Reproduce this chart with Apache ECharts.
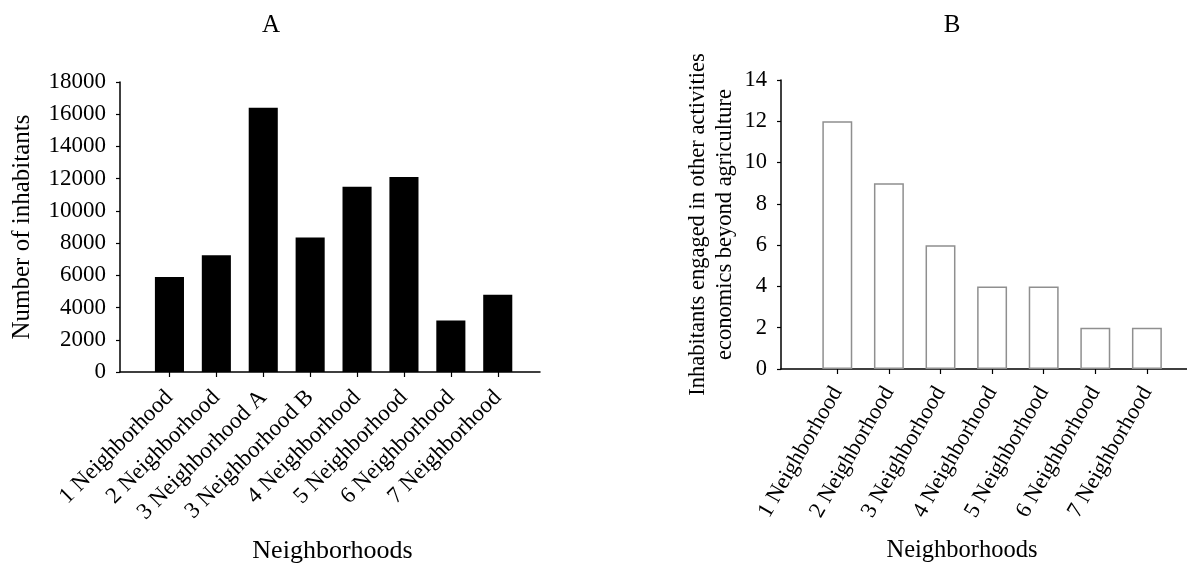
<!DOCTYPE html>
<html>
<head>
<meta charset="utf-8">
<script src="https://cdn.jsdelivr.net/npm/echarts@6/dist/echarts.min.js"></script>
<style>
  html, body { margin: 0; padding: 0; background: #ffffff; }
  #chart { width: 1187px; height: 564px; }
</style>
</head>
<body>
<div id="chart"></div>
<script>
// Panel A: population per neighborhood
const categoriesA = ['1 Neighborhood', '2 Neighborhood', '3 Neighborhood A', '3 Neighborhood B',
                     '4 Neighborhood', '5 Neighborhood', '6 Neighborhood', '7 Neighborhood'];
const inhabitants = [5900, 7250, 16400, 8350, 11500, 12100, 3200, 4800];
const axisA = { min: 0, max: 18000, interval: 2000 };

// Panel B: inhabitants working outside agriculture
const categoriesB = ['1 Neighborhood', '2 Neighborhood', '3 Neighborhood', '4 Neighborhood',
                     '5 Neighborhood', '6 Neighborhood', '7 Neighborhood'];
const nonFarmWorkers = [12, 9, 6, 4, 4, 2, 2];
const axisB = { min: 0, max: 14, interval: 2 };

const FONT = "'Liberation Serif', 'Times New Roman', serif";
const BLACK = '#000000';

function frameX(gridIndex) {
  // plain axis line spanning the full frame width
  return {
    type: 'value', gridIndex, min: 0, max: 1,
    axisLine: { show: true, lineStyle: { color: BLACK, width: 1.5 } },
    axisTick: { show: false }, axisLabel: { show: false }, splitLine: { show: false }
  };
}
function categoryX(gridIndex, data, rotate, fontSize, margin) {
  return {
    type: 'category', gridIndex, data,
    axisLine: { show: false },
    axisTick: { show: true, alignWithLabel: true, length: 5, lineStyle: { color: BLACK, width: 1.2 } },
    axisLabel: {
      interval: 0, rotate, margin,
      color: BLACK, fontFamily: FONT, fontSize
    },
    splitLine: { show: false }
  };
}
function valueY(gridIndex, range, visible, fontSize, extra) {
  return Object.assign({
    type: 'value', gridIndex, min: range.min, max: range.max, interval: range.interval,
    show: visible,
    axisLine: { show: true, lineStyle: { color: BLACK, width: 1.5 } },
    axisTick: { show: true, inside: false, length: 4, lineStyle: { color: BLACK, width: 1.2 } },
    axisLabel: { color: BLACK, fontFamily: FONT, fontSize, margin: 14, formatter: v => String(v) },
    splitLine: { show: false }
  }, extra || {});
}

const chart = echarts.init(document.getElementById('chart'), null, { renderer: 'canvas' });
chart.setOption({
  backgroundColor: '#ffffff',
  animation: false,
  grid: [
    { left: 120, top: 82, width: 420, height: 290 },      // A frame
    { left: 146, top: 82, width: 375.2, height: 290 },    // A categories
    { left: 781, top: 80, width: 406, height: 289 },      // B frame
    { left: 811.5, top: 80, width: 361.2, height: 289 }   // B categories
  ],
  xAxis: [
    frameX(0),
    categoryX(1, categoriesA, 45, 23, 22),
    frameX(2),
    categoryX(3, categoriesB, 60, 22.5, 19.5)
  ],
  yAxis: [
    valueY(0, axisA, true, 23, {
      name: 'Number of inhabitants', nameLocation: 'middle', nameGap: 85,
      nameTextStyle: { color: BLACK, fontFamily: FONT, fontSize: 25 }
    }),
    valueY(1, axisA, false, 23),
    valueY(2, axisB, true, 22.5, {
      name: 'Inhabitants engaged in other activities\neconomics beyond agriculture',
      nameLocation: 'middle', nameGap: 42,
      nameTextStyle: { color: BLACK, fontFamily: FONT, fontSize: 22.5, lineHeight: 27, align: 'center' }
    }),
    valueY(3, axisB, false, 22.5)
  ],
  series: [
    {
      type: 'bar', xAxisIndex: 1, yAxisIndex: 1, data: inhabitants,
      barCategoryGap: '38%',
      itemStyle: { color: BLACK }
    },
    {
      type: 'bar', xAxisIndex: 3, yAxisIndex: 3, data: nonFarmWorkers,
      barCategoryGap: '42%',
      itemStyle: { color: '#ffffff', borderColor: '#8f8f8f', borderWidth: 1.5 }
    }
  ],
  graphic: [
    { type: 'text', x: 271, y: 25, style: { text: 'A', fill: BLACK, font: '25px ' + FONT, textAlign: 'center', textVerticalAlign: 'middle' } },
    { type: 'text', x: 952, y: 25, style: { text: 'B', fill: BLACK, font: '25px ' + FONT, textAlign: 'center', textVerticalAlign: 'middle' } },
    { type: 'text', x: 332.5, y: 551, style: { text: 'Neighborhoods', fill: BLACK, font: '26px ' + FONT, textAlign: 'center', textVerticalAlign: 'middle' } },
    { type: 'text', x: 962, y: 551, style: { text: 'Neighborhoods', fill: BLACK, font: '24.5px ' + FONT, textAlign: 'center', textVerticalAlign: 'middle' } }
  ]
});
</script>
</body>
</html>
